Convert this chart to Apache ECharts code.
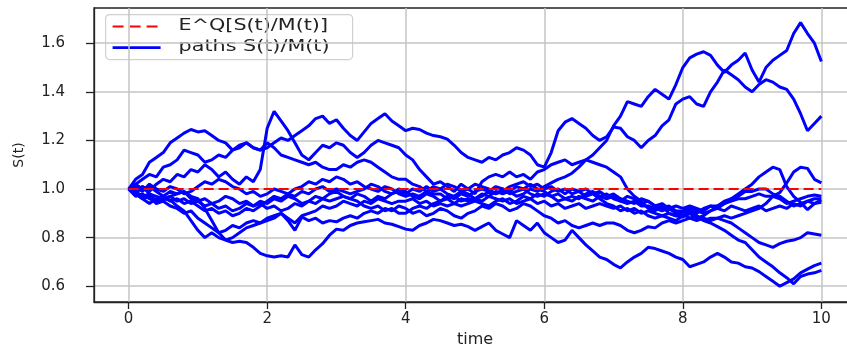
<!DOCTYPE html>
<html>
<head>
<meta charset="utf-8">
<script src="https://cdn.jsdelivr.net/npm/echarts@6/dist/echarts.min.js"></script>
<style>
html,body{margin:0;padding:0;background:#fff;}
#chart{width:847px;height:345px;}
</style>
</head>
<body>
<div id="chart"></div>
<script>
// time grid (0 to 10, step 0.1)
const times = Array.from({length: 101}, (_, i) => Math.round(i) / 10);

const xTicks = [0, 2, 4, 6, 8, 10];
const yTicks = [0.6, 0.8, 1.0, 1.2, 1.4, 1.6];
const expectationValue = 1.0;

const pathA = [1.00,0.99,1.01,0.98,0.97,0.96,0.97,0.95,0.96,0.94,0.95,0.93,0.94,0.92,0.93,0.91,0.92,0.94,0.93,0.95,
0.94,0.96,0.95,0.97,0.96,0.94,0.95,0.97,0.96,0.98,0.99,0.97,0.96,0.98,0.97,0.95,0.97,0.96,0.98,0.99,
0.98,1.00,0.99,1.01,0.99,1.00,0.98,0.97,0.99,0.98,0.96,0.97,0.99,0.98,1.00,0.99,0.97,0.98,1.00,0.99,
1.01,1.025,1.04,1.05,1.065,1.09,1.12,1.14,1.17,1.20,1.26,1.30,1.36,1.35,1.34,1.38,1.41,1.39,1.37,1.43,
1.50,1.54,1.555,1.565,1.55,1.51,1.48,1.51,1.53,1.56,1.49,1.44,1.50,1.53,1.55,1.57,1.64,1.685,1.64,1.60,1.525];

const pathB = [1.00,1.04,1.06,1.11,1.13,1.15,1.19,1.21,1.23,1.245,1.235,1.24,1.22,1.20,1.19,1.16,1.18,1.19,1.17,1.16,
1.17,1.19,1.21,1.20,1.22,1.24,1.26,1.29,1.30,1.27,1.285,1.25,1.22,1.20,1.235,1.27,1.29,1.31,1.28,1.26,
1.24,1.25,1.245,1.23,1.22,1.215,1.205,1.18,1.15,1.13,1.12,1.11,1.13,1.12,1.14,1.15,1.17,1.16,1.14,1.10,
1.09,1.15,1.24,1.275,1.29,1.27,1.25,1.22,1.20,1.215,1.255,1.25,1.215,1.20,1.17,1.20,1.22,1.26,1.285,1.35,
1.37,1.38,1.35,1.34,1.40,1.44,1.49,1.47,1.45,1.42,1.40,1.43,1.45,1.44,1.42,1.41,1.37,1.31,1.24,1.27,1.30];

const pathC = [1.00,0.98,1.01,0.99,1.02,1.04,1.03,1.06,1.05,1.08,1.07,1.10,1.08,1.05,1.07,1.04,1.02,1.05,1.03,1.08,
1.25,1.32,1.28,1.24,1.19,1.14,1.12,1.15,1.18,1.17,1.19,1.18,1.15,1.13,1.15,1.18,1.20,1.19,1.18,1.17,
1.14,1.12,1.08,1.05,1.02,1.03,1.01,0.99,1.02,1.00,0.98,1.03,1.05,1.06,1.05,1.07,1.05,1.06,1.04,1.07,
1.08,1.10,1.11,1.12,1.10,1.11,1.12,1.11,1.10,1.09,1.07,1.05,1.00,0.97,0.95,0.92,0.91,0.93,0.90,0.89,
0.885,0.90,0.88,0.89,0.91,0.93,0.95,0.96,0.98,1.00,1.02,1.05,1.07,1.09,1.08,1.01,0.97,0.945,0.915,0.94,0.955];

const pathD = [1.00,0.99,0.97,0.98,0.95,0.96,0.955,0.93,0.91,0.87,0.83,0.80,0.82,0.80,0.79,0.78,0.785,0.78,0.76,0.735,
0.725,0.72,0.725,0.72,0.77,0.73,0.72,0.75,0.775,0.81,0.835,0.83,0.85,0.86,0.865,0.87,0.875,0.86,0.855,0.845,
0.835,0.83,0.85,0.86,0.875,0.87,0.86,0.85,0.855,0.845,0.83,0.845,0.86,0.83,0.815,0.80,0.87,0.85,0.83,0.86,
0.82,0.80,0.78,0.79,0.83,0.80,0.77,0.745,0.72,0.71,0.69,0.675,0.70,0.72,0.735,0.76,0.755,0.745,0.735,0.72,
0.71,0.68,0.69,0.70,0.72,0.735,0.72,0.70,0.695,0.68,0.675,0.66,0.64,0.62,0.60,0.615,0.63,0.655,0.67,0.685,0.695];

const pathE = [1.00,0.98,0.96,0.97,0.94,0.95,0.93,0.92,0.90,0.91,0.88,0.86,0.84,0.82,0.83,0.85,0.84,0.86,0.87,0.86,
0.88,0.89,0.90,0.87,0.83,0.885,0.87,0.88,0.86,0.87,0.865,0.88,0.89,0.88,0.90,0.91,0.90,0.92,0.91,0.93,
0.92,0.90,0.91,0.89,0.90,0.92,0.91,0.89,0.88,0.90,0.91,0.93,0.92,0.94,0.93,0.91,0.92,0.94,0.93,0.91,
0.89,0.88,0.86,0.87,0.85,0.84,0.85,0.86,0.85,0.86,0.86,0.85,0.83,0.82,0.83,0.845,0.84,0.86,0.87,0.86,
0.87,0.88,0.87,0.88,0.87,0.88,0.87,0.86,0.84,0.82,0.80,0.78,0.77,0.76,0.775,0.785,0.79,0.80,0.82,0.815,0.81];

const pathF = [1.00,1.02,1.04,1.06,1.05,1.09,1.10,1.12,1.16,1.15,1.14,1.11,1.12,1.14,1.13,1.16,1.17,1.19,1.17,1.16,
1.19,1.17,1.14,1.13,1.12,1.11,1.10,1.11,1.09,1.08,1.08,1.10,1.09,1.11,1.12,1.11,1.09,1.07,1.05,1.04,
1.04,1.02,1.01,0.99,0.98,0.98,0.96,0.97,0.95,0.96,0.96,0.98,0.97,0.99,0.98,0.99,1.01,1.00,0.98,0.97,
0.98,0.97,0.95,0.96,0.97,0.96,0.98,0.99,0.97,0.96,0.97,0.95,0.94,0.95,0.93,0.93,0.92,0.91,0.92,0.90,
0.90,0.91,0.90,0.92,0.93,0.93,0.94,0.95,0.96,0.96,0.97,0.98,0.97,0.97,0.985,1.025,1.07,1.09,1.085,1.04,1.025];

const pathG = [1.00,0.97,0.98,0.96,0.95,0.955,0.97,0.98,0.99,0.97,0.96,0.92,0.87,0.82,0.79,0.80,0.82,0.84,0.85,0.86,
0.87,0.88,0.90,0.88,0.86,0.89,0.90,0.91,0.93,0.92,0.93,0.95,0.94,0.93,0.95,0.94,0.96,0.95,0.94,0.95,
0.95,0.96,0.94,0.95,0.93,0.94,0.93,0.94,0.96,0.95,0.96,0.95,0.97,0.96,0.95,0.96,0.94,0.95,0.96,0.94,
0.95,0.93,0.94,0.92,0.93,0.94,0.92,0.93,0.94,0.93,0.92,0.93,0.91,0.92,0.90,0.91,0.90,0.89,0.90,0.89,
0.895,0.88,0.89,0.87,0.86,0.845,0.83,0.81,0.79,0.78,0.75,0.72,0.70,0.68,0.655,0.635,0.61,0.64,0.65,0.655,0.665];

const pathH = [1.00,1.01,0.99,1.02,1.00,0.99,1.01,1.00,0.98,0.99,1.01,1.03,1.02,1.04,1.03,1.01,1.00,0.98,0.99,0.97,
0.98,1.00,0.99,0.98,0.97,0.99,0.98,1.00,1.01,0.99,1.00,0.99,0.98,0.99,1.00,1.02,1.01,0.99,0.98,1.00,
0.99,0.97,0.96,0.98,0.97,0.95,0.96,0.94,0.93,0.94,0.95,0.94,0.93,0.95,0.96,0.94,0.95,0.97,0.96,0.98,
0.97,0.99,1.00,0.98,1.00,0.99,0.97,0.98,0.96,0.94,0.93,0.91,0.92,0.90,0.91,0.89,0.88,0.89,0.88,0.87,
0.89,0.90,0.89,0.87,0.88,0.88,0.89,0.88,0.89,0.90,0.91,0.92,0.94,0.97,0.96,0.94,0.95,0.96,0.97,0.975,0.97];

const pathI = [1.00,0.98,0.96,0.94,0.96,0.97,0.99,0.98,0.99,0.96,0.95,0.96,0.94,0.95,0.97,0.96,0.94,0.95,0.93,0.94,
0.92,0.93,0.91,0.92,0.94,0.93,0.95,0.94,0.96,0.95,0.96,0.97,0.96,0.95,0.93,0.92,0.93,0.91,0.92,0.90,
0.90,0.92,0.93,0.92,0.94,0.95,0.97,0.96,0.98,0.97,0.99,1.00,0.99,1.01,1.00,0.98,0.99,1.00,1.02,1.00,
0.99,0.97,0.98,0.96,0.95,0.97,0.96,0.95,0.97,0.98,0.96,0.95,0.97,0.96,0.94,0.95,0.93,0.92,0.93,0.91,
0.91,0.92,0.91,0.90,0.91,0.92,0.94,0.96,0.97,0.99,0.99,1.00,1.00,0.98,0.97,0.95,0.93,0.94,0.95,0.94,0.945];

const pathJ = [1.00,1.02,1.00,1.01,0.99,0.97,0.95,0.96,0.94,0.95,0.93,0.91,0.92,0.90,0.91,0.89,0.90,0.92,0.91,0.93,
0.95,0.97,0.96,0.98,1.00,1.01,1.03,1.02,1.04,1.03,1.05,1.04,1.02,1.03,1.01,1.00,0.99,1.01,1.00,0.98,
0.97,0.98,0.97,0.99,1.01,1.00,1.02,1.01,0.99,1.00,1.02,1.01,1.00,0.98,0.99,1.01,1.02,1.03,1.01,1.02,
1.00,1.01,0.99,1.00,0.98,0.99,1.00,0.98,0.99,0.97,0.98,0.96,0.95,0.94,0.96,0.95,0.93,0.94,0.92,0.93,
0.92,0.93,0.92,0.91,0.93,0.92,0.91,0.93,0.92,0.91,0.92,0.93,0.91,0.92,0.93,0.92,0.94,0.93,0.95,0.96,0.96];

const paths = [pathA, pathB, pathC, pathD, pathE, pathF, pathG, pathH, pathI, pathJ];

const FONT = '"DejaVu Sans", sans-serif';
const TEXT = '#222222';

const pathSeries = paths.map((p) => ({
  type: 'line',
  name: 'paths S(t)/M(t)',
  data: times.map((t, i) => [t, p[i]]),
  showSymbol: false,
  symbol: 'none',
  lineStyle: { color: '#0000ff', width: 3 },
  z: 2,
  silent: true
}));

const expSeries = {
  type: 'line',
  name: 'E^Q[S(t)/M(t)]',
  data: [[times[0], expectationValue], [times[times.length - 1], expectationValue]],
  showSymbol: false,
  symbol: 'none',
  lineStyle: { color: '#ff0000', width: 2, type: [10, 5] },
  z: 3,
  silent: true
};

const chart = echarts.init(document.getElementById('chart'), null, { renderer: 'canvas' });
chart.setOption({
  animation: false,
  backgroundColor: '#ffffff',
  grid: {
    left: 94, top: 8, width: 762, height: 294,
    outerBoundsMode: 'none', containLabel: false,
    show: true, borderColor: '#222', borderWidth: 1.3, backgroundColor: 'transparent'
  },
  xAxis: {
    type: 'value',
    min: -0.5, max: 10.5,
    name: 'time',
    nameLocation: 'middle',
    nameGap: 26,
    nameTextStyle: { fontFamily: FONT, fontSize: 16, color: TEXT },
    axisLine: { show: true, onZero: false, lineStyle: { color: '#222', width: 1.3 } },
    axisTick: { show: true, customValues: xTicks, length: 7, lineStyle: { color: '#222', width: 1.3 } },
    axisLabel: { customValues: xTicks, margin: 10, fontFamily: FONT, fontSize: 15, color: TEXT,
      formatter: v => String(v) },
    splitLine: { show: true, lineStyle: { color: '#c4c4c4', width: 1.5 } }
  },
  yAxis: {
    type: 'value',
    min: 0.535, max: 1.745,
    name: 'S(t)',
    nameLocation: 'middle',
    nameGap: 68,
    nameRotate: 90,
    nameTextStyle: { fontFamily: FONT, fontSize: 14, color: TEXT },
    axisLine: { show: true, onZero: false, lineStyle: { color: '#222', width: 1.3 } },
    axisTick: { show: true, customValues: yTicks, length: 8, lineStyle: { color: '#222', width: 1.3 } },
    axisLabel: { customValues: yTicks, margin: 29, align: 'right', fontFamily: FONT, fontSize: 15, color: TEXT,
      formatter: v => v.toFixed(1) },
    splitLine: { show: true, lineStyle: { color: '#c4c4c4', width: 1.5 } }
  },
  graphic: [{
    type: 'group',
    left: 105, top: 14, z: 100,
    children: [
      { type: 'rect', shape: { x: 0, y: 0, width: 247, height: 45, r: 4 },
        style: { fill: 'rgba(255,255,255,0.85)', stroke: '#d0d0d0', lineWidth: 1.2 } },
      { type: 'line', shape: { x1: 7, y1: 12, x2: 55, y2: 12 },
        style: { stroke: '#ff0000', lineWidth: 2, lineDash: [11, 6] } },
      { type: 'line', shape: { x1: 7, y1: 33, x2: 55, y2: 33 },
        style: { stroke: '#0000ff', lineWidth: 2.6 } },
      { type: 'text', x: 73, y: 12, scaleX: 1.38,
        style: { text: 'E^Q[S(t)/M(t)]', font: '15px ' + FONT, fill: TEXT, verticalAlign: 'middle' } },
      { type: 'text', x: 73, y: 33, scaleX: 1.38,
        style: { text: 'paths S(t)/M(t)', font: '15px ' + FONT, fill: TEXT, verticalAlign: 'middle' } }
    ]
  }],
  series: [...pathSeries, expSeries]
});
</script>
</body>
</html>
